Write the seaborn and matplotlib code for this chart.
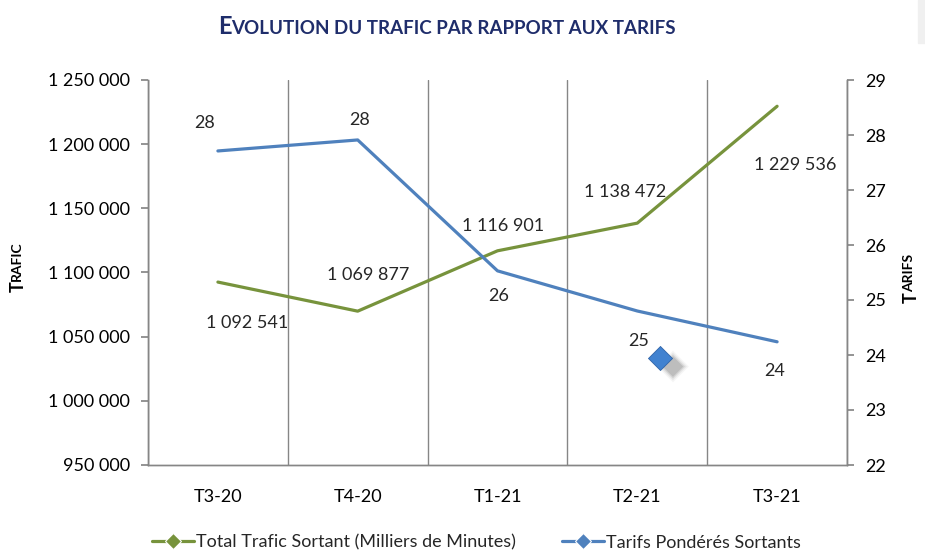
import matplotlib
matplotlib.use("Agg")
import matplotlib.pyplot as plt
import seaborn as sns
import numpy as np
import pandas as pd

# data
periodes = ["T3-20", "T4-20", "T1-21", "T2-21", "T3-21"]
trafic = [1092541, 1069877, 1116901, 1138472, 1229536]
tarifs = [27.71, 27.91, 25.53, 24.80, 24.24]
# stray diamond marker left on the chart (x in category units, y on tarif axis)
marqueur_x = [3.16]
marqueur_y = [23.95]

vert = "#77933C"
bleu = "#4F81BD"
gris = "#868686"
titre_col = "#1F2D6B"

sns.set_theme(style="white")
plt.rcParams["font.family"] = ["Lato", "DejaVu Sans"]

df = pd.DataFrame({"pos": np.arange(len(periodes)), "periode": periodes,
                   "trafic": trafic, "tarif": tarifs})

fig = plt.figure(figsize=(9.25, 5.53), dpi=100)
ax = fig.add_axes([148 / 925, 1 - 465 / 553, (847 - 148) / 925, (465 - 80) / 553])
ax2 = ax.twinx()

sns.lineplot(data=df, x="pos", y="trafic", ax=ax, color=vert, linewidth=2.3,
             label="Total Trafic Sortant (Milliers de Minutes)", legend=False)
sns.lineplot(data=df, x="pos", y="tarif", ax=ax2, color=bleu, linewidth=2.3,
             label="Tarifs Pondérés Sortants", legend=False)

# stray marker with a soft, blurred shadow
for s, a in [(260, 0.08), (200, 0.12), (150, 0.2), (110, 0.3)]:
    ax2.scatter([x + 0.095 for x in marqueur_x], [y - 0.16 for y in marqueur_y], marker="D",
                s=s, color="#8a8a8a", alpha=a, edgecolors="none", zorder=4)
ax2.scatter(marqueur_x, marqueur_y, marker="D", s=150, color="#4182d0",
            edgecolors="#2f64a8", linewidths=0.6, zorder=5)

ax.set_xlim(-0.5, len(periodes) - 0.5)
ax.set_ylim(950000, 1250000)
ax2.set_ylim(22, 29)
ax.set_yticks(np.arange(950000, 1250001, 50000))
ax.set_yticklabels([f"{v:,.0f}".replace(",", " ") for v in np.arange(950000, 1250001, 50000)])
ax2.set_yticks(np.arange(22, 30, 1))

ax.set_xticks(np.arange(len(periodes)))
ax.set_xticklabels(periodes)
ax.set_xticks(np.arange(-0.5, len(periodes), 1), minor=True)
ax.tick_params(axis="x", which="major", length=0, pad=17, labelsize=13, labelcolor="black")
ax.tick_params(axis="x", which="minor", length=5, color=gris, direction="out")
ax.tick_params(axis="y", length=5, color=gris, direction="out", left=True, labelsize=13,
               labelcolor="black", pad=8)
ax2.tick_params(axis="y", length=5, color=gris, direction="out", right=True, labelsize=13,
                labelcolor="black", pad=8)
ax.xaxis.grid(True, which="minor", color=gris, linewidth=1)
ax.yaxis.grid(False)
ax2.grid(False)

for a in (ax, ax2):
    a.spines["top"].set_visible(False)
    for s in ("left", "right", "bottom"):
        a.spines[s].set_color(gris)
        a.spines[s].set_linewidth(1)
ax.set_xlabel("")
ax.set_ylabel("")
ax2.set_ylabel("")

# data labels
off_trafic = [(29, -41), (10, 36), (6, 25), (-12, 31), (18, -59)]
for x, v, o in zip(df["pos"], trafic, off_trafic):
    ax.annotate(f"{v:,.0f}".replace(",", " "), (x, v), xytext=o, textcoords="offset pixels",
                ha="center", va="center", fontsize=13)
off_tarif = [(-13, 28), (2, 20), (1, -25), (1, -30), (-2, -29)]
for x, v, o in zip(df["pos"], tarifs, off_tarif):
    ax2.annotate(f"{v:.0f}", (x, v), xytext=o, textcoords="offset pixels",
                 ha="center", va="center", fontsize=13)


# small caps helper: first letter bigger, rest smaller
def petites_caps(x, y, texte, gros, petit, rotation=0, **kw):
    if rotation == 0:
        t1 = fig.text(x, y, texte[0], fontsize=gros, fontweight="bold",
                      ha="left", va="baseline", **kw)
        fig.canvas.draw()
        bb = t1.get_window_extent()
        fig.text(bb.x1 / fig.bbox.width, y, texte[1:], fontsize=petit, fontweight="bold",
                 ha="left", va="baseline", **kw)
    else:
        t1 = fig.text(x, y, texte[0], fontsize=gros, rotation=90, fontweight="bold",
                      ha="left", va="bottom", **kw)
        fig.canvas.draw()
        bb = t1.get_window_extent()
        # keep the small letters on the same baseline as the big one
        fig.text(x + 0.0005, bb.y1 / fig.bbox.height, texte[1:], fontsize=petit, rotation=90,
                 fontweight="bold", ha="left", va="bottom", **kw)


petites_caps(218 / 925, 1 - 34 / 553, "EVOLUTION DU TRAFIC PAR RAPPORT AUX TARIFS", 17, 13.5,
             color=titre_col)
petites_caps(10 / 925, 1 - 292 / 553, "TRAFIC", 13, 10, rotation=90, color="black")
petites_caps(903 / 925, 1 - 303 / 553, "TARIFS", 13, 10, rotation=90, color="black")

# legend
h1, l1 = ax.get_legend_handles_labels()
h2, l2 = ax2.get_legend_handles_labels()
for h in h1 + h2:
    h.set_marker("D")
    h.set_markersize(8)
fig.legend(h1 + h2, l1 + l2, loc="lower center", bbox_to_anchor=(0.515, -0.025), ncol=2,
           frameon=False, fontsize=13, handlelength=2.3, columnspacing=2.6, handletextpad=0.1)
for h in h1 + h2:
    h.set_marker("None")

# grey sliver in the top-right corner
fig.patches.append(plt.Rectangle((918 / 925, 1 - 43 / 553), 7 / 925, 43 / 553,
                                 transform=fig.transFigure, color="#f0f0f0", zorder=0))

fig.savefig("out.png", dpi=100)
